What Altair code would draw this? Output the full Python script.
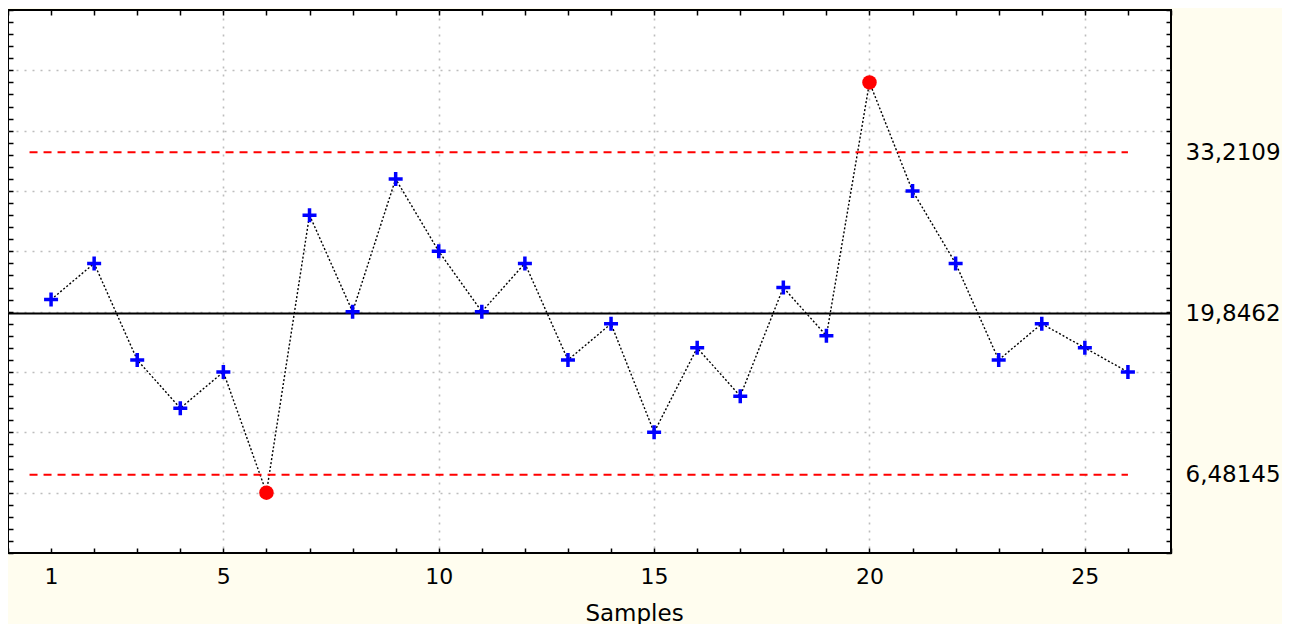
import altair as alt
import pandas as pd

samples = list(range(1, 27))
values = [21, 24, 16, 12, 15, 5, 28, 20, 31, 25, 20, 24, 16, 19, 10, 17, 13, 22, 18, 39, 30, 24, 16, 19, 17, 15]
ucl = 33.2109
cl = 19.8462
lcl = 6.48145
limit_span = [0.5, 26]
x_domain = [0, 27]
y_domain = [0, 45]

df = pd.DataFrame({"sample": samples, "value": values})
df["out"] = (df["value"] > ucl) | (df["value"] < lcl)

limits = pd.DataFrame({"x": [limit_span[0]] * 2, "x2": [limit_span[1]] * 2, "y": [ucl, lcl]})
center = pd.DataFrame({"x": [x_domain[0]], "x2": [x_domain[1]], "y": [cl]})

FONT = "DejaVu Sans"
int_x = list(range(x_domain[0], x_domain[1] + 1))
int_y = list(range(y_domain[0], y_domain[1] + 1))

xs = alt.Scale(domain=x_domain, nice=False, zero=False)
ys = alt.Scale(domain=y_domain, nice=False, zero=False)

GRID = dict(grid=True, gridColor="#BDBDBD", gridDash=[2, 6], gridWidth=1.6)
TICK = dict(offset=-5, tickSize=5, tickColor="black", tickWidth=1.5, domain=False)

x_bottom = alt.Axis(
    orient="bottom", values=int_x, **TICK, **GRID,
    gridOpacity={"condition": {"test": "datum.value % 5 === 0 && datum.value > 0 && datum.value < 27", "value": 1}, "value": 0},
    labelExpr="(datum.value === 1 || datum.value % 5 === 0) && datum.value > 0 && datum.value < 27 ? datum.label : ''",
    labelFont=FONT, labelFontSize=22, labelColor="black", labelPadding=13,
    labelOverlap=False, labelFlush=False,
    title="Samples", titleFont=FONT, titleFontSize=23, titleFontWeight="normal",
    titleColor="black", titlePadding=15, titleX=626,
)
y_left = alt.Axis(
    orient="left", values=int_y, **TICK, **GRID,
    gridOpacity={"condition": {"test": "datum.value % 5 === 0 && datum.value > 0 && datum.value < 45", "value": 1}, "value": 0},
    labels=False, title=None,
)
x_top = alt.Axis(orient="top", values=int_x, **TICK, grid=False, labels=False, title=None)
y_right = alt.Axis(
    orient="right", values=int_y + [lcl, cl, ucl], **TICK, grid=False,
    tickOpacity={"condition": {"test": "datum.value % 1 === 0", "value": 1}, "value": 0},
    labelExpr="datum.value % 1 !== 0 ? replace(toString(datum.value), '.', ',') : ''",
    labelFont=FONT, labelFontSize=23, labelColor="black", labelPadding=14,
    labelOverlap=False, labelFlush=False, labelBound=False, title=None,
)

base = alt.Chart(df)

line = base.mark_line(color="black", strokeDash=[2, 2], strokeWidth=1.4).encode(
    x=alt.X("sample:Q", scale=xs, axis=x_bottom),
    y=alt.Y("value:Q", scale=ys, axis=y_left),
)

center_rule = alt.Chart(center).mark_rule(color="black", strokeWidth=2).encode(
    x=alt.X("x:Q", scale=xs, axis=None), x2="x2:Q",
    y=alt.Y("y:Q", scale=ys, axis=None),
)

limit_rules = alt.Chart(limits).mark_rule(color="#FF0000", strokeWidth=2, strokeDash=[8, 6]).encode(
    x=alt.X("x:Q", scale=xs, axis=None), x2="x2:Q",
    y=alt.Y("y:Q", scale=ys, axis=None),
)

plus_path = "M-1,-0.25H-0.25V-1H0.25V-0.25H1V0.25H0.25V1H-0.25V0.25H-1Z"
crosses = base.transform_filter("!datum.out").mark_point(
    shape=plus_path, filled=True, color="#0000FF", size=196, opacity=1
).encode(
    x=alt.X("sample:Q", scale=xs, axis=None),
    y=alt.Y("value:Q", scale=ys, axis=None),
)

circles = base.transform_filter("datum.out").mark_point(
    shape="circle", filled=True, color="#FF0000", size=210, opacity=1
).encode(
    x=alt.X("sample:Q", scale=xs, axis=x_top),
    y=alt.Y("value:Q", scale=ys, axis=y_right),
)

chart = alt.layer(line, center_rule, limit_rules, crosses, circles).resolve_axis(
    x="independent", y="independent"
).properties(
    width=1163, height=543,
    padding={"left": 0, "top": 2, "right": 111, "bottom": 71},
    autosize=alt.AutoSizeParams(type="none"),
    background="#FFFDEF",
).configure_view(fill="white", stroke="black", strokeWidth=2)

chart.save("out.html", embed_options={"renderer": "svg", "actions": False})
